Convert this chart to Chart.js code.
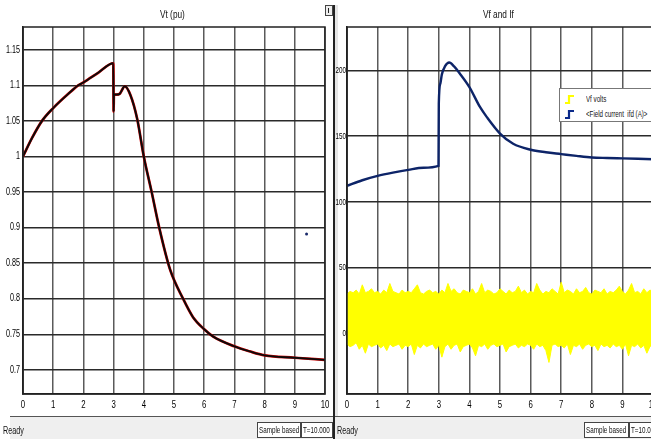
<!DOCTYPE html>
<html>
<head>
<meta charset="utf-8">
<script src="https://cdn.jsdelivr.net/npm/chart.js@4/dist/chart.umd.min.js"></script>
<style>
  body { margin: 0; background: #fff; }
  #wrap { position: relative; width: 651px; height: 439px; overflow: hidden; background: #fff;
          font-family: 'Liberation Sans', Arial, sans-serif; color: #111; }
  canvas { position: absolute; top: 0; }
  .narrow { display: inline-block; transform: scaleX(0.72); transform-origin: 0 50%; white-space: nowrap; }
  .title { position: absolute; top: 8px; font-size: 11.5px; white-space: nowrap; }
  .status { position: absolute; top: 416px; height: 23px; background: #efefef; border-top: 1px solid #555; }
  .status > span { position: absolute; font-size: 10px; top: 8px; }
  .box { position: absolute; top: 5px; height: 14px; border: 1px solid #444; background: #fff;
         font-size: 9px; line-height: 14px; padding-left: 1px; white-space: nowrap; overflow: hidden; }
  .box .narrow { transform: scaleX(0.7); }
  #sep { position: absolute; left: 333px; top: 5px; width: 2px; height: 434px; background: #222; }
  #sep2 { position: absolute; left: 335px; top: 5px; width: 3px; height: 411px; background: #e6e6e6; }
  #icon { position: absolute; left: 325px; top: 5px; width: 6px; height: 9px; border: 1px solid #444; background: #eee; }
  #icon:after { content: ''; position: absolute; left: 2px; top: 2px; width: 1px; height: 5px; background: #222; }
  #legend { position: absolute; left: 559px; top: 88px; width: 100px; height: 32px; background: #fff;
            border: 1px solid #777; font-size: 9.5px; }
  #legend > div { position: absolute; left: 4px; height: 12px; white-space: nowrap; }
  #legend svg { position: absolute; left: 0; top: 1px; }
  #legend .narrow { position: absolute; left: 22px; top: 0; line-height: 11px; transform: scaleX(0.65); }
</style>
</head>
<body>
<div id="wrap">
  <div id="sep2"></div>
  <canvas id="vt" width="333" height="416" style="left:0"></canvas>
  <canvas id="vf" width="320" height="416" style="left:334px"></canvas>
  <div class="title" style="left:160px"><span class="narrow">Vt (pu)</span></div>
  <div class="title" style="left:483px"><span class="narrow">Vf and If</span></div>
  <div id="sep"></div>
  <div id="icon"></div>
  <div id="legend">
    <div style="top:4px">
      <svg width="12" height="11"><path d="M1 9 H5 V2 H10" stroke="#ffff00" stroke-width="2.2" fill="none"/></svg>
      <span class="narrow">Vf volts</span>
    </div>
    <div style="top:19px">
      <svg width="12" height="11"><path d="M1 9 H5 V2 H10" stroke="#0b2a8a" stroke-width="2.2" fill="none"/></svg>
      <span class="narrow">&lt;Field current&nbsp; ifd (A)&gt;</span>
    </div>
  </div>
  <div class="status" style="left:10px; width:323px">
    <span style="left:-7px" class="narrow">Ready</span>
    <div class="box" style="left:247px; width:41px"><span class="narrow">Sample based</span></div>
    <div class="box" style="left:291px; width:29px"><span class="narrow">T=10.000</span></div>
  </div>
  <div class="status" style="left:335px; width:316px">
    <span style="left:2px" class="narrow">Ready</span>
    <div class="box" style="left:249px; width:42px"><span class="narrow">Sample based</span></div>
    <div class="box" style="left:294px; width:30px"><span class="narrow">T=10.000</span></div>
  </div>
</div>
<script>
// time axis ticks shared by both scopes
const timeTicks = [0, 1, 2, 3, 4, 5, 6, 7, 8, 9, 10];

// Vt (pu)
const vtTicks = [0.7, 0.75, 0.8, 0.85, 0.9, 0.95, 1, 1.05, 1.1, 1.15];
const vtTime = [0, 0.3, 0.63, 1, 1.5, 1.83, 2, 2.5, 2.99, 3.0, 3.01, 3.1, 3.2, 3.37, 3.56, 3.78, 4.0, 4.26, 4.51, 4.87, 5.3, 5.63, 6, 6.3, 7, 7.5, 8, 9, 10];
const vtValue = [1.0, 1.026, 1.05, 1.068, 1.088, 1.1, 1.104, 1.118, 1.131, 1.063, 1.087, 1.087, 1.088, 1.0986, 1.086, 1.053, 1.0, 0.95, 0.9, 0.841, 0.8, 0.774, 0.757, 0.7466, 0.733, 0.726, 0.7203, 0.717, 0.714];
const vtStray = [{ x: 9.39, y: 0.891 }];

// Vf and If
const vfTicks = [0, 50, 100, 150, 200];
const ifTime = [0, 0.5, 1, 1.5, 2, 2.5, 2.99, 3.0, 3.05, 3.1, 3.2, 3.34, 3.5, 3.69, 4, 4.35, 4.57, 5, 5.43, 6, 6.5, 7, 7.5, 8, 8.5, 9, 9.5, 10];
const ifValue = [112.2, 116.5, 119.8, 122.3, 124.4, 126, 127.4, 174.6, 190, 197, 203, 206, 203, 197.5, 187.3, 172, 164.5, 152, 144.2, 139.7, 137.8, 136.4, 135, 133.8, 133.4, 133.1, 132.8, 132.5];
// Vf volts, read as the upper and lower edge of the noisy band, every 0.1 s
const vfUpper = [30,32,31,33,30,37,31,32,34,31, 32,30,33,31,38,32,31,30,33,31, 32,31,34,37,31,30,32,33,31,32,
  30,33,31,38,32,34,31,30,33,32, 31,34,30,32,38,31,33,32,30,31, 34,32,30,33,31,32,36,31,33,30,
  32,31,38,33,30,32,31,34,32,30, 39,31,33,32,30,34,31,32,35,31, 30,33,32,31,34,30,32,31,33,36,
  32,30,33,38,31,32,30,34,31,33, 32];
const vfLower = [-8,-10,-9,-7,-12,-9,-15,-8,-10,-9, -8,-11,-9,-13,-8,-10,-9,-8,-12,-9, -10,-8,-16,-9,-11,-8,-10,-9,-8,-12,
  -9,-18,-10,-8,-12,-9,-8,-14,-10,-9, -8,-11,-17,-9,-10,-8,-12,-9,-8,-10, -9,-8,-14,-10,-9,-8,-11,-9,-10,-8,
  -9,-12,-8,-10,-9,-13,-22,-9,-8,-10, -9,-11,-8,-16,-9,-10,-8,-12,-9,-8, -10,-9,-13,-8,-10,-9,-11,-8,-10,-9,
  -12,-8,-17,-9,-10,-8,-11,-9,-15,-10, -8];
const vfTime = vfUpper.map((_, i) => i / 10);

const fontFamily = "'Liberation Sans', Arial, sans-serif";
const toPoints = (xs, ys) => xs.map((x, i) => ({ x: x, y: ys[i] }));

function scopeScales(yMin, yMax, yTicks, yWidth) {
  return {
    x: {
      type: 'linear', min: 0, max: 10,
      afterBuildTicks: s => { s.ticks = timeTicks.map(v => ({ value: v })); },
      afterFit: s => { s.height = 22; s.paddingLeft = 0; s.paddingRight = 0; },
      grid: { color: '#5a5a5a', lineWidth: 1.5, drawTicks: false },
      border: { color: '#222', width: 1.5 },
      ticks: { display: false }
    },
    y: {
      min: yMin, max: yMax,
      afterBuildTicks: s => { s.ticks = yTicks.map(v => ({ value: v })); },
      afterFit: s => { s.width = yWidth; s.paddingTop = 0; s.paddingBottom = 0; },
      grid: { color: '#2a2a2a', lineWidth: 1.5, drawTicks: false },
      border: { color: '#222', width: 1.5 },
      ticks: { display: false }
    }
  };
}

// frame around the plot and narrow (scope style) tick labels, placed through the scales
function scopePlugin(ySize, yGap, yStretch) {
  return {
    id: 'scope',
    afterDraw(chart) {
      const a = chart.chartArea, ctx = chart.ctx;
      const xs = chart.scales.x, ys = chart.scales.y;
      ctx.save();
      ctx.strokeStyle = '#222';
      ctx.lineWidth = 1.5;
      ctx.strokeRect(a.left, a.top, a.right - a.left, a.bottom - a.top);
      ctx.fillStyle = '#000';
      ctx.textBaseline = 'middle';
      ctx.font = ySize + 'px ' + fontFamily;
      ctx.textAlign = 'right';
      ys.ticks.forEach(t => {
        ctx.save();
        ctx.translate(a.left - yGap, ys.getPixelForValue(t.value));
        ctx.scale(yStretch, 1);
        ctx.fillText(String(t.value), 0, 0);
        ctx.restore();
      });
      ctx.font = '10px ' + fontFamily;
      ctx.textAlign = 'center';
      xs.ticks.forEach(t => {
        ctx.save();
        ctx.translate(xs.getPixelForValue(t.value), a.bottom + 11);
        ctx.scale(0.78, 1);
        ctx.fillText(String(t.value), 0, 0);
        ctx.restore();
      });
      ctx.restore();
    }
  };
}

new Chart(document.getElementById('vt'), {
  type: 'line',
  data: {
    datasets: [
      { data: toPoints(vtTime, vtValue), borderColor: '#0a0a0a', borderWidth: 1.9, pointRadius: 0, cubicInterpolationMode: 'monotone' },
      { data: toPoints(vtTime, vtValue), borderColor: '#d00000', borderWidth: 2.7, pointRadius: 0, cubicInterpolationMode: 'monotone' },
      { data: vtStray, showLine: false, pointRadius: 1.5, pointBackgroundColor: '#1a2a6a', pointBorderWidth: 0 }
    ]
  },
  options: {
    responsive: false, animation: false,
    layout: { padding: { top: 27, right: 8, left: 0, bottom: 0 } },
    plugins: { legend: { display: false }, tooltip: { enabled: false } },
    scales: scopeScales(0.666, 1.182, vtTicks, 23)
  },
  plugins: [scopePlugin(10, 3, 0.72)]
});

new Chart(document.getElementById('vf'), {
  type: 'line',
  data: {
    datasets: [
      { data: toPoints(ifTime, ifValue), borderColor: '#0d2468', borderWidth: 2.4, pointRadius: 0, cubicInterpolationMode: 'monotone' },
      { data: toPoints(vfTime, vfUpper), borderColor: '#ffff00', borderWidth: 1, pointRadius: 0, fill: '+1', backgroundColor: '#ffff00' },
      { data: toPoints(vfTime, vfLower), borderColor: '#ffff00', borderWidth: 1, pointRadius: 0, fill: false }
    ]
  },
  options: {
    responsive: false, animation: false,
    layout: { padding: { top: 27, right: 1, left: 0, bottom: 0 } },
    plugins: { legend: { display: false }, tooltip: { enabled: false } },
    scales: scopeScales(-46, 233, vfTicks, 13)
  },
  plugins: [scopePlugin(9.5, 1, 0.66)]
});
</script>
</body>
</html>
